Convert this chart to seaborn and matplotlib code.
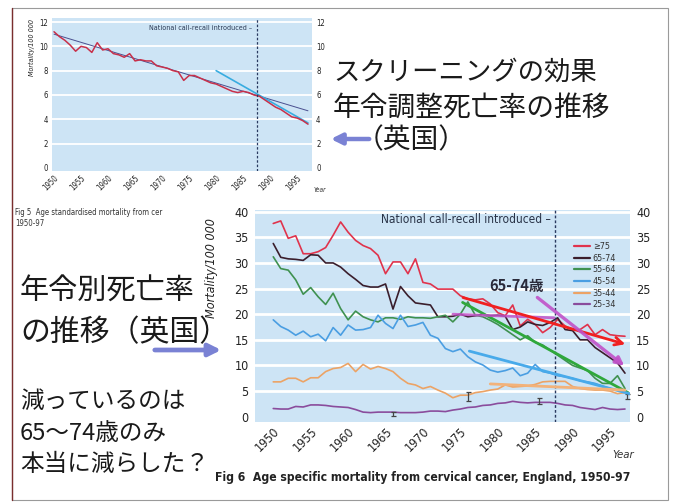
import matplotlib
matplotlib.use("Agg")
import numpy as np
import pandas as pd
import matplotlib.pyplot as plt
from matplotlib import font_manager
from matplotlib.patches import FancyArrowPatch, Rectangle
import seaborn as sns

# ---------------------------------------------------------------- data
years = list(range(1950, 1998))

# Fig 5: age standardised mortality (per 100 000)
std_rate = [11.2, 10.8, 10.5, 10.1, 9.6, 10.0, 9.9, 9.5, 10.3, 9.7,
            9.8, 9.4, 9.3, 9.1, 9.4, 8.8, 8.9, 8.8, 8.8, 8.4,
            8.3, 8.2, 8.0, 7.9, 7.2, 7.6, 7.6, 7.4, 7.2, 7.0,
            6.9, 6.7, 6.5, 6.3, 6.2, 6.3, 6.2, 6.0, 5.9, 5.6,
            5.3, 5.0, 4.8, 4.5, 4.2, 4.1, 3.9, 3.6]
long_trend_years = [1950, 1997]
long_trend_vals = [11.0, 4.7]
recent_trend_years = [1980, 1997]
recent_trend_vals = [8.0, 3.7]

# Fig 6: age specific mortality (per 100 000)
age_groups = ["\u226575", "65-74", "55-64", "45-54", "35-44", "25-34"]
rate_75plus = [37.7, 38.2, 34.8, 35.3, 31.8, 31.8, 32.2, 33.0, 35.4, 38.0,
               36.0, 34.4, 33.4, 32.8, 31.5, 27.9, 30.2, 30.2, 27.9, 30.8,
               26.2, 25.9, 24.9, 24.9, 24.9, 23.6, 23.0, 22.8, 23.0, 22.0,
               20.3, 19.7, 21.8, 17.7, 19.0, 18.0, 16.4, 17.4, 19.0, 17.7,
               17.0, 17.0, 18.0, 16.0, 17.0, 16.0, 15.8, 15.7]
rate_65_74 = [33.8, 31.1, 30.8, 30.7, 30.5, 31.6, 31.5, 30.0, 30.0, 29.2,
              27.9, 26.8, 25.6, 25.3, 25.3, 25.9, 21.0, 25.4, 23.6, 22.2,
              22.0, 21.8, 19.5, 19.5, 19.6, 20.0, 19.5, 19.7, 20.0, 19.7,
              19.8, 19.6, 17.0, 17.5, 18.5, 18.0, 17.8, 18.4, 19.3, 17.0,
              16.8, 15.0, 15.0, 13.5, 12.5, 11.5, 10.5, 8.5]
rate_55_64 = [31.2, 28.9, 28.6, 26.7, 23.9, 25.2, 23.4, 21.9, 24.1, 21.1,
              18.9, 20.6, 19.5, 18.9, 18.5, 19.3, 19.3, 19.0, 19.5, 19.3,
              19.3, 19.2, 19.5, 19.8, 18.5, 20.0, 22.4, 19.8, 19.5, 18.8,
              18.0, 17.0, 16.0, 15.0, 15.8, 14.5, 14.0, 13.0, 12.0, 11.0,
              10.0, 9.5, 9.0, 7.5, 6.5, 6.5, 8.0, 5.5]
rate_45_54 = [18.9, 17.6, 16.9, 15.9, 16.7, 15.6, 16.1, 14.8, 17.4, 15.9,
              17.9, 16.9, 17.0, 17.4, 19.8, 18.2, 17.2, 19.8, 17.6, 17.9,
              18.4, 15.9, 15.3, 13.3, 12.7, 13.2, 11.7, 10.7, 10.1, 9.1,
              8.7, 9.0, 9.5, 8.0, 8.5, 10.2, 8.8, 8.5, 8.0, 7.8,
              7.5, 7.0, 6.8, 6.5, 6.0, 5.5, 5.2, 5.0]
rate_35_44 = [6.8, 6.8, 7.5, 7.5, 6.8, 7.6, 7.6, 8.8, 9.4, 9.6,
              10.4, 8.8, 10.2, 9.3, 9.8, 9.4, 8.8, 7.5, 6.5, 6.2,
              5.5, 5.9, 5.2, 4.6, 3.7, 4.2, 4.2, 4.7, 4.9, 5.2,
              5.4, 6.2, 5.8, 5.9, 6.0, 6.3, 6.8, 6.9, 6.9, 6.9,
              5.9, 5.5, 5.3, 5.2, 5.2, 5.0, 4.5, 4.7]
rate_25_34 = [1.6, 1.5, 1.5, 2.0, 1.9, 2.3, 2.3, 2.2, 2.0, 1.9,
              1.8, 1.4, 0.9, 0.8, 0.9, 0.9, 0.9, 0.8, 0.8, 0.8,
              0.9, 1.1, 1.1, 1.0, 1.3, 1.5, 1.8, 1.9, 2.2, 2.3,
              2.6, 2.7, 3.0, 2.8, 2.7, 2.8, 2.8, 2.8, 2.6, 2.3,
              2.2, 1.8, 1.6, 1.4, 1.8, 1.5, 1.4, 1.5]

# confidence bars shown on a few points
ci_years = [1966, 1976, 1985.5, 1997.3]
ci_mid = [0.6, 3.9, 3.1, 3.9]
ci_half = [0.4, 0.9, 0.6, 0.5]

# hand-drawn trend overlays (start / end)
trend_red = ([1975.0, 1997.4], [23.4, 14.0])
trend_mag_flat = ([1974.0, 1987.5], [20.0, 19.3])
trend_mag_down = ([1985.0, 1997.2], [23.6, 9.6])
trend_green = ([1975.3, 1997.4], [22.3, 4.7])
trend_blue = ([1976.2, 1997.6], [12.8, 4.5])
trend_orange = ([1979.0, 1997.0], [6.4, 5.2])

call_recall_year = 1987.6
ticks_x = list(range(1950, 2000, 5))

# ---------------------------------------------------------------- fonts
ttf = font_manager.fontManager.ttflist
names = {f.name for f in ttf}
if "Liberation Sans Narrow" in names:
    NARROW = dict(family=["Liberation Sans Narrow", "DejaVu Sans"])
    NSCALE = 1.0
elif any(f.name == "DejaVu Sans" and f.stretch == "condensed" for f in ttf):
    NARROW = dict(family=["DejaVu Sans"], fontstretch="condensed")
    NSCALE = 0.86
else:
    NARROW = dict(family=["DejaVu Sans"])
    NSCALE = 0.78
JP = ["Noto Sans CJK JP", "DejaVu Sans"]


def narrow(size, **kw):
    d = dict(NARROW)
    d.update(fontsize=size * NSCALE, **kw)
    return d


sns.set_theme(style="white")
plt.rcParams["font.family"] = ["DejaVu Sans"]

W, H = 674, 504
fig = plt.figure(figsize=(W / 100, H / 100), dpi=100)
fig.patch.set_facecolor("white")


def fx(x):
    return x / W


def fy(y):
    return 1 - y / H


def px_axes(x0, y0, x1, y1):
    return fig.add_axes([fx(x0), fy(y1), (x1 - x0) / W, (y1 - y0) / H])


BG = "#cde4f5"
fig.add_artist(Rectangle((fx(12), fy(500)), fx(656), 492 / H, transform=fig.transFigure,
                         fill=False, edgecolor="#9a9a9a", lw=0.8))
fig.add_artist(plt.Line2D([fx(12), fx(12)], [fy(8), fy(500)], transform=fig.transFigure,
                          color="#7a2e2e", lw=1.0))


def style_axes(ax, ylim, yticks, xlim, tsize, lpad, grid_lw):
    ax.set_facecolor(BG)
    ax.set_xlim(*xlim)
    ax.set_ylim(*ylim)
    for s in ax.spines.values():
        s.set_visible(False)
    ax.grid(False)
    for t in yticks[1:]:
        ax.axhline(t, color="white", lw=grid_lw, zorder=0.5)
    ax.set_xlabel("")
    ax.set_ylabel("")
    ax.set_yticks(yticks)
    ax.set_yticklabels([str(t) for t in yticks], **narrow(tsize, color="#222222"))
    ax.set_xticks(ticks_x)
    ax.set_xticklabels([str(t) for t in ticks_x], rotation=45, ha="right",
                       va="top", rotation_mode="anchor", **narrow(tsize, color="#222222"))
    ax.tick_params(axis="x", length=0, pad=2)
    ax.tick_params(axis="y", length=0, pad=lpad, labelright=True, labelleft=True)
    for t in ax.yaxis.get_major_ticks():
        t.label2.set(**narrow(tsize, color="#222222"))


# ---------------------------------------------------------------- Fig 5
ax1 = px_axes(52, 18, 312, 171)
std_df = pd.DataFrame({"year": years, "rate": std_rate})
sns.lineplot(data=std_df, x="year", y="rate", ax=ax1, color="#c8304a", lw=1.1, zorder=3)
sns.lineplot(x=long_trend_years, y=long_trend_vals, ax=ax1, color="#4a4f8f", lw=0.7, zorder=2)
sns.lineplot(x=recent_trend_years, y=recent_trend_vals, ax=ax1, color="#38ace0", lw=1.2, zorder=2)
ax1.axvline(call_recall_year, color="#2a3a60", lw=0.9, ls=(0, (2, 1.5)), zorder=4)
style_axes(ax1, (-0.25, 12.33), list(range(0, 13, 2)), (1949.63, 1997.74), 6.5, 3, 1.3)
ax1.text(call_recall_year - 0.9, 11.5, "National call-recall introduced \u2013",
         ha="right", va="center", color="#2a3a55", **narrow(6))
fig.text(fx(32), fy(47), "Mortality/100 000", rotation=90, ha="center", va="center",
         color="#222222", **narrow(6, style="italic"))
fig.text(fx(314), fy(190), "Year", ha="left", va="center", color="#333333",
         **narrow(5.5, style="italic"))

# Fig 5 caption
fig.text(fx(15), fy(212), "Fig 5  Age standardised mortality from cer", ha="left", va="center",
         color="#333333", **narrow(6.5))
fig.text(fx(15), fy(224), "1950-97", ha="left", va="center", color="#333333", **narrow(6.5))

# ---------------------------------------------------------------- Fig 6
ax2 = px_axes(255, 210, 630, 422)
series = [rate_75plus, rate_65_74, rate_55_64, rate_45_54, rate_35_44, rate_25_34]
long_df = pd.DataFrame({
    "year": years * len(age_groups),
    "rate": sum(series, []),
    "age": np.repeat(age_groups, len(years)),
})
palette = dict(zip(age_groups, ["#e0334c", "#3a1e2c", "#3f9150", "#4a9ee2", "#eca365", "#8a4c9c"]))
sns.lineplot(data=long_df, x="year", y="rate", hue="age", hue_order=age_groups,
             palette=palette, ax=ax2, lw=1.2, zorder=3)
ax2.axvline(call_recall_year, color="#2a3a60", lw=1.0, ls=(0, (2, 1.5)), zorder=4)
ax2.errorbar(ci_years, ci_mid, yerr=ci_half, fmt="none", ecolor="#444444",
             elinewidth=0.9, capsize=1.8, capthick=0.9, zorder=5)

sns.lineplot(x=trend_green[0], y=trend_green[1], ax=ax2, color="#2fa83c", lw=2.0, zorder=6)
sns.lineplot(x=trend_blue[0], y=trend_blue[1], ax=ax2, color="#48aaea", lw=2.0, zorder=6)
sns.lineplot(x=trend_orange[0], y=trend_orange[1], ax=ax2, color="#f2b27a", lw=2.0, zorder=6)
sns.lineplot(x=trend_mag_flat[0], y=trend_mag_flat[1], ax=ax2, color="#c052c8", lw=2.0,
             alpha=0.85, zorder=6)
ax2.annotate("", xy=(trend_red[0][1], trend_red[1][1]), xytext=(trend_red[0][0], trend_red[1][0]),
             arrowprops=dict(arrowstyle="->", color="#f02020", lw=2.0, mutation_scale=14), zorder=7)
ax2.annotate("", xy=(trend_mag_down[0][1], trend_mag_down[1][1]),
             xytext=(trend_mag_down[0][0], trend_mag_down[1][0]),
             arrowprops=dict(arrowstyle="-|>", color="#c052c8", lw=2.4, mutation_scale=12,
                             alpha=0.9), zorder=7)

style_axes(ax2, (-1.03, 40.33), list(range(0, 41, 5)), (1947.56, 1997.67), 10.5, 4.5, 2.0)

leg_prop = dict(family=NARROW["family"], size=7.5 * NSCALE)
if "fontstretch" in NARROW:
    leg_prop["stretch"] = NARROW["fontstretch"]
leg = ax2.legend(loc="upper left", bbox_to_anchor=((574 - 255) / 375, (422 - 242) / 212),
                 frameon=False, borderpad=0, borderaxespad=0, handlelength=1.8,
                 handletextpad=0.3, labelspacing=0.3, prop=leg_prop)
for line in leg.get_lines():
    line.set_linewidth(1.6)
for t in leg.get_texts():
    t.set_color("#333333")

ax2.text(call_recall_year - 0.5, 38.5, "National call-recall introduced \u2013",
         ha="right", va="center", color="#2a3448", **narrow(10))
ax2.text(1978.8, 25.6, "65-74\u6b73", ha="left", va="center", color="#2a2a3a",
         family=JP, fontsize=10.5, fontweight="bold", zorder=8)

fig.text(fx(212), fy(268), "Mortality/100 000", rotation=90, ha="center", va="center",
         color="#222222", **narrow(10.5, style="italic"))
fig.text(fx(612), fy(455), "Year", ha="left", va="center", color="#333333",
         **narrow(9.5, style="italic"))
fig.text(fx(215), fy(478), "Fig 6  Age specific mortality from cervical cancer, England, 1950-97",
         ha="left", va="center", color="#222222", **narrow(10.2, fontweight="bold"))

# ---------------------------------------------------------------- slide notes
fig.text(fx(333), fy(72), "\u30b9\u30af\u30ea\u30fc\u30cb\u30f3\u30b0\u306e\u52b9\u679c",
         family=JP, fontsize=19, color="#1a1a1a", ha="left", va="center")
fig.text(fx(333), fy(108), "\u5e74\u4ee4\u8abf\u6574\u6b7b\u4ea1\u7387\u306e\u63a8\u79fb",
         family=JP, fontsize=20, color="#1a1a1a", ha="left", va="center")
fig.text(fx(356), fy(140), "\uff08\u82f1\u56fd\uff09",
         family=JP, fontsize=20, color="#1a1a1a", ha="left", va="center")
fig.text(fx(20), fy(292), "\u5e74\u4ee4\u5225\u6b7b\u4ea1\u7387",
         family=JP, fontsize=21, color="#1a1a1a", ha="left", va="center")
fig.text(fx(20), fy(333), "\u306e\u63a8\u79fb\uff08\u82f1\u56fd\uff09",
         family=JP, fontsize=21.5, color="#1a1a1a", ha="left", va="center")
fig.text(fx(20), fy(401), "\u6e1b\u3063\u3066\u3044\u308b\u306e\u306f",
         family=JP, fontsize=17, color="#1a1a1a", ha="left", va="center")
fig.text(fx(20), fy(433), "65\u301c74\u6b73\u306e\u307f",
         family=JP, fontsize=17, color="#1a1a1a", ha="left", va="center")
fig.text(fx(20), fy(464), "\u672c\u5f53\u306b\u6e1b\u3089\u3057\u305f\uff1f",
         family=JP, fontsize=17, color="#1a1a1a", ha="left", va="center")

ARROW = "#7a82d4"
fig.add_artist(FancyArrowPatch((fx(372), fy(139)), (fx(328), fy(139)), transform=fig.transFigure,
                               arrowstyle="-|>", mutation_scale=16, lw=3.2, color=ARROW))
fig.add_artist(FancyArrowPatch((fx(152), fy(350)), (fx(224), fy(350)), transform=fig.transFigure,
                               arrowstyle="-|>", mutation_scale=18, lw=3.4, color=ARROW))

fig.savefig("out.png", dpi=100, facecolor="white")
